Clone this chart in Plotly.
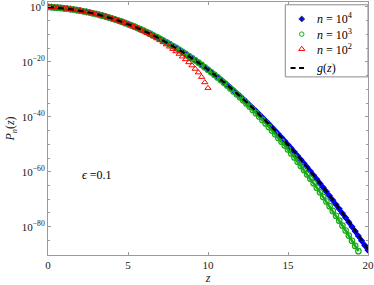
import plotly.graph_objects as go

# ---- data (log10 of P_n(z)) ----
z_grid = [round(0.2 * i, 1) for i in range(101)]  # 0.0 ... 20.0

log_g = [0.00, -0.08, -0.16, -0.26, -0.37, -0.50, -0.64, -0.79, -0.96, -1.14,
         -1.34, -1.56, -1.79, -2.03, -2.29, -2.57, -2.86, -3.17, -3.50, -3.84,
         -4.20, -4.57, -4.97, -5.37, -5.80, -6.24, -6.70, -7.18, -7.67, -8.18,
         -8.70, -9.25, -9.81, -10.39, -10.98, -11.59, -12.22, -12.87, -13.53, -14.21,
         -14.91, -15.62, -16.35, -17.10, -17.86, -18.65, -19.45, -20.26, -21.10, -21.95,
         -22.82, -23.70, -24.61, -25.53, -26.46, -27.42, -28.39, -29.38, -30.39, -31.41,
         -32.45, -33.51, -34.58, -35.68, -36.79, -37.91, -39.06, -40.22, -41.40, -42.59,
         -43.81, -45.04, -46.29, -47.55, -48.83, -50.13, -51.45, -52.79, -54.14, -55.51,
         -56.89, -58.30, -59.72, -61.16, -62.61, -64.09, -65.58, -67.08, -68.61, -70.15,
         -71.71, -73.29, -74.88, -76.49, -78.12, -79.77, -81.43, -83.11, -84.81, -86.53,
         -88.26]

log_n1e4 = [0.00, -0.08, -0.16, -0.26, -0.37, -0.50, -0.64, -0.79, -0.96, -1.14,
            -1.34, -1.56, -1.79, -2.03, -2.29, -2.57, -2.86, -3.17, -3.50, -3.84,
            -4.20, -4.57, -4.97, -5.37, -5.80, -6.24, -6.70, -7.18, -7.67, -8.18,
            -8.70, -9.25, -9.81, -10.39, -10.98, -11.59, -12.22, -12.87, -13.53, -14.21,
            -14.91, -15.62, -16.35, -17.10, -17.86, -18.65, -19.45, -20.26, -21.10, -21.95,
            -22.82, -23.70, -24.61, -25.53, -26.46, -27.42, -28.39, -29.38, -30.39, -31.41,
            -32.45, -33.51, -34.58, -35.68, -36.79, -37.91, -39.06, -40.22, -41.40, -42.59,
            -43.81, -45.04, -46.29, -47.55, -48.83, -50.15, -51.48, -52.83, -54.19, -55.57,
            -56.97, -58.39, -59.82, -61.27, -62.74, -64.23, -65.73, -67.25, -68.79, -70.34,
            -71.91, -73.50, -75.10, -76.72, -78.36, -80.02, -81.69, -83.38, -85.09, -86.82,
            -88.57]

z_n1e3 = z_grid[:98]  # up to 19.4
log_n1e3 = [0.00, -0.08, -0.16, -0.26, -0.37, -0.50, -0.64, -0.79, -0.96, -1.14,
            -1.34, -1.56, -1.79, -2.03, -2.29, -2.57, -2.86, -3.17, -3.50, -3.84,
            -4.20, -4.57, -4.97, -5.37, -5.80, -6.24, -6.70, -7.18, -7.67, -8.18,
            -8.70, -9.25, -9.81, -10.39, -10.98, -11.59, -12.22, -12.87, -13.53, -14.21,
            -14.91, -15.62, -16.35, -17.10, -17.86, -18.65, -19.45, -20.26, -21.10, -21.95,
            -22.87, -23.77, -24.71, -25.66, -26.62, -27.62, -28.64, -29.68, -30.74, -31.81,
            -32.90, -34.01, -35.13, -36.28, -37.47, -38.66, -39.88, -41.12, -42.40, -43.69,
            -45.01, -46.34, -47.69, -49.05, -50.45, -51.88, -53.33, -54.79, -56.31, -57.86,
            -59.39, -60.95, -62.52, -64.16, -65.81, -67.49, -69.16, -70.83, -72.53, -74.25,
            -76.01, -77.79, -79.58, -81.39, -83.22, -85.12, -86.98, -88.91]

z_n1e2 = z_grid[:51]  # up to 10.0
log_n1e2 = [0.00, -0.08, -0.16, -0.26, -0.37, -0.50, -0.64, -0.79, -0.96, -1.14,
            -1.34, -1.56, -1.79, -2.03, -2.29, -2.57, -2.86, -3.17, -3.50, -3.84,
            -4.20, -4.57, -4.97, -5.37, -5.80, -6.24, -6.72, -7.23, -7.75, -8.30,
            -8.86, -9.47, -10.09, -10.75, -11.43, -12.14, -12.88, -13.65, -14.45, -15.29,
            -16.17, -17.08, -18.05, -19.07, -20.14, -21.30, -22.53, -23.86, -25.50, -27.45,
            -29.52]

series_labels = ["<i>n</i> = 10<sup>4</sup>", "<i>n</i> = 10<sup>3</sup>",
                 "<i>n</i> = 10<sup>2</sup>", "<i>g</i>(<i>z</i>)"]

y_tick_vals = [1e0, 1e-20, 1e-40, 1e-60, 1e-80]
y_tick_text = ["10<sup>0</sup>", "10<sup>\u221220</sup>", "10<sup>\u221240</sup>",
               "10<sup>\u221260</sup>", "10<sup>\u221280</sup>"]
y_minor_vals = [10.0 ** (-k) for k in range(5, 95, 5) if k % 20 != 0]
x_tick_vals = [0, 5, 10, 15, 20]

to_lin = lambda arr: [10.0 ** v for v in arr]

FONT = "Liberation Serif"
AX = "#9a9a9a"
TXT = "#202020"
BLUE, GREEN, RED = "#0000ff", "#1aaa1a", "#ff0000"

fig = go.Figure()

fig.add_trace(go.Scatter(x=z_grid, y=to_lin(log_n1e4), mode="lines+markers",
                         line=dict(color=BLUE, width=4),
                         marker=dict(symbol="diamond", size=5.5, color=BLUE),
                         name=series_labels[0], hoverinfo="skip"))
fig.add_trace(go.Scatter(x=z_n1e3, y=to_lin(log_n1e3), mode="lines+markers",
                         line=dict(color=GREEN, width=2.5),
                         marker=dict(symbol="circle-open", size=5.5, color=GREEN,
                                     line=dict(width=1.2)),
                         name=series_labels[1], hoverinfo="skip"))
fig.add_trace(go.Scatter(x=z_n1e2, y=to_lin(log_n1e2), mode="markers",
                         marker=dict(symbol="triangle-up-open", size=5.5, color=RED,
                                     line=dict(width=1)),
                         name=series_labels[2], hoverinfo="skip"))
fig.add_trace(go.Scatter(x=z_grid, y=to_lin(log_g), mode="lines",
                         line=dict(color="black", width=2.2, dash="6px,4px"),
                         name=series_labels[3], hoverinfo="skip"))

# ---- legend box drawn in plot-fraction coordinates (overlay axes x2/y2) ----
leg_rows = [0.933, 0.873, 0.814, 0.739]
leg_mx = 0.793
leg_tx = 0.834
leg_syms = [("diamond", 4.5, BLUE), ("circle-open", 4.5, GREEN),
            ("triangle-up-open", 5.5, RED)]
for (sym, sz, col), ry in zip(leg_syms, leg_rows[:3]):
    fig.add_trace(go.Scatter(x=[leg_mx], y=[ry], xaxis="x2", yaxis="y2", mode="markers",
                             marker=dict(symbol=sym, size=sz, color=col, line=dict(width=1)),
                             showlegend=False, hoverinfo="skip", cliponaxis=False))
fig.add_trace(go.Scatter(x=[0.758, 0.800], y=[leg_rows[3], leg_rows[3]], xaxis="x2", yaxis="y2",
                         mode="lines", line=dict(color="black", width=2, dash="5px,3.5px"),
                         showlegend=False, hoverinfo="skip", cliponaxis=False))
for lab, ry in zip(series_labels, leg_rows):
    fig.add_annotation(text=lab, xref="paper", yref="paper", x=leg_tx, y=ry,
                       xanchor="left", yanchor="middle", showarrow=False,
                       font=dict(family=FONT, size=12, color="black"))
fig.add_shape(type="rect", xref="paper", yref="paper", x0=0.7416, x1=1.0, y0=0.704, y1=0.989,
              line=dict(color="#8a8a8a", width=1), fillcolor="rgba(0,0,0,0)", layer="below")

fig.add_annotation(text="<i>\u03f5</i> =0.1", xref="paper", yref="paper", x=0.1, y=0.316,
                   xanchor="left", yanchor="middle", showarrow=False,
                   font=dict(family=FONT, size=12, color="black"))

fig.update_layout(
    width=374, height=285,
    margin=dict(l=48, r=6, t=2, b=30, autoexpand=False),
    plot_bgcolor="white", paper_bgcolor="white",
    font=dict(family=FONT, size=11, color=TXT),
    showlegend=False,
    xaxis=dict(range=[0, 20], tickmode="array", tickvals=x_tick_vals,
               ticks="inside", ticklen=3, tickcolor=AX, showline=True, linecolor=AX,
               linewidth=1, mirror="ticks", showgrid=False, zeroline=False,
               automargin=False,
               tickfont=dict(family=FONT, size=11, color=TXT),
               title=dict(text="<i>z</i>", standoff=2,
                          font=dict(family=FONT, size=12, color=TXT))),
    yaxis=dict(type="log", range=[-90.3, 1.8], tickmode="array",
               tickvals=y_tick_vals, ticktext=y_tick_text,
               ticks="inside", ticklen=3, tickcolor=AX, showline=True, linecolor=AX,
               linewidth=1, mirror="ticks", showgrid=False, zeroline=False,
               automargin=False, ticklabeloverflow="allow",
               minor=dict(tickmode="array", tickvals=y_minor_vals, ticks="inside",
                          ticklen=2, tickcolor=AX, showgrid=False),
               tickfont=dict(family=FONT, size=11, color=TXT),
               title=dict(text="<i>P<sub>n</sub></i>(<i>z</i>)", standoff=4,
                          font=dict(family=FONT, size=12, color=TXT))),
    xaxis2=dict(overlaying="x", range=[0, 1], visible=False, fixedrange=True),
    yaxis2=dict(overlaying="y", range=[0, 1], visible=False, fixedrange=True),
)

fig.write_html("out.html", config={"displayModeBar": False},
               post_script="document.body.style.margin='0';document.body.style.padding='0';")
